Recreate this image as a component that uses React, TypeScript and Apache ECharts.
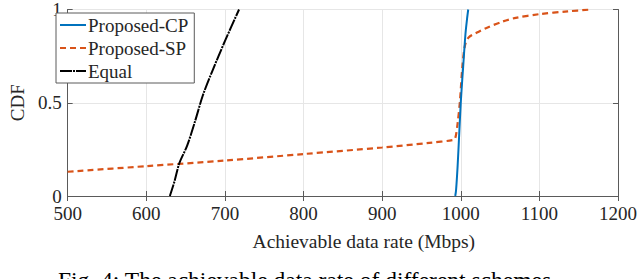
import React, { useEffect, useRef } from "react";
import * as echarts from "echarts";

const xTicks = [500, 600, 700, 800, 900, 1000, 1100, 1200];
const yTicks = [0, 0.5, 1];

const cpRate = [993, 994, 996, 998, 1000, 1002, 1003, 1006, 1008, 1009.5];
const cpCdf = [0, 0.03, 0.16, 0.33, 0.5, 0.63, 0.69, 0.87, 0.95, 1];

const spRate = [500, 600, 700, 800, 900, 960, 990, 993, 996, 999, 1002, 1005.5, 1010, 1020, 1032, 1053, 1070, 1100, 1136, 1165];
const spCdf = [0.13, 0.16, 0.19, 0.225, 0.26, 0.285, 0.3, 0.31, 0.39, 0.51, 0.69, 0.81, 0.85, 0.875, 0.9, 0.935, 0.955, 0.975, 0.99, 1];

const eqRate = [630, 636, 642, 652, 662, 672, 684, 700, 718];
const eqCdf = [0, 0.08, 0.175, 0.27, 0.4, 0.54, 0.67, 0.83, 1];

const seriesNames = ["Proposed-CP", "Proposed-SP", "Equal"];
const xLabel = "Achievable data rate (Mbps)";
const yLabel = "CDF";
const caption = "Fig. 4: The achievable data rate of different schemes.";

const zip = (a: number[], b: number[]) => a.map((v, i) => [v, b[i]]);

const FONT = "Times New Roman";
const TXT = "#262626";
const AX = "#5a5a5a";

export default function App() {
  const ref = useRef<HTMLDivElement>(null);
  useEffect(() => {
    const chart = echarts.init(ref.current!, null, { renderer: "svg" });
    const baseX = {
      type: "value" as const,
      min: xTicks[0],
      max: xTicks[xTicks.length - 1],
      interval: 100,
    };
    const baseY = {
      type: "value" as const,
      min: yTicks[0],
      max: yTicks[yTicks.length - 1],
      interval: 0.5,
    };
    chart.setOption({
      animation: false,
      backgroundColor: "#ffffff",
      textStyle: { fontFamily: FONT },
      grid: { left: 52, right: 21, top: 8, bottom: 83, containLabel: false },
      xAxis: [
        {
          ...baseX,
          position: "bottom",
          name: xLabel,
          nameLocation: "middle",
          nameGap: 35,
          nameTextStyle: { fontFamily: FONT, fontSize: 19.5, color: TXT, padding: [0, 0, 0, 42] },
          axisLine: { lineStyle: { color: AX, width: 1 } },
          axisTick: { inside: true, length: 5, lineStyle: { color: AX } },
          axisLabel: { fontFamily: FONT, fontSize: 19, color: TXT, margin: 8, formatter: (v: number) => String(v) },
          splitLine: { show: true, lineStyle: { color: "#e6e6e6", width: 1 } },
        },
        {
          ...baseX,
          position: "top",
          axisLine: { lineStyle: { color: AX, width: 1 } },
          axisTick: { inside: true, length: 5, lineStyle: { color: AX } },
          axisLabel: { show: false },
          splitLine: { show: false },
        },
      ],
      yAxis: [
        {
          ...baseY,
          position: "left",
          name: yLabel,
          nameLocation: "middle",
          nameGap: 34,
          nameTextStyle: { fontFamily: FONT, fontSize: 19, color: TXT },
          axisLine: { show: true, lineStyle: { color: AX, width: 1 } },
          axisTick: { show: true, inside: true, length: 5, lineStyle: { color: AX } },
          axisLabel: {
            fontFamily: FONT,
            fontSize: 19,
            color: TXT,
            margin: 6,
            formatter: (v: number) => String(v),
          },
          splitLine: { show: true, lineStyle: { color: "#e6e6e6", width: 1 } },
        },
        {
          ...baseY,
          position: "right",
          axisLine: { show: true, lineStyle: { color: AX, width: 1 } },
          axisTick: { show: true, inside: true, length: 5, lineStyle: { color: AX } },
          axisLabel: { show: false },
          splitLine: { show: false },
        },
      ],
      legend: {
        left: 56,
        top: 13,
        orient: "vertical",
        data: seriesNames,
        itemWidth: 26,
        itemHeight: 14,
        itemGap: 3,
        padding: [2, 6, 2, 3],
        borderColor: "#5a5a5a",
        borderWidth: 1,
        backgroundColor: "#ffffff",
        itemStyle: { opacity: 0 },
        textStyle: { fontFamily: FONT, fontSize: 19, color: TXT, lineHeight: 20, padding: [0, 0, 0, -3] },
      },
      series: [
        {
          name: seriesNames[0],
          type: "line",
          data: zip(cpRate, cpCdf),
          smooth: 0.3,
          showSymbol: false,
          symbol: "none",
          lineStyle: { color: "#0072BD", width: 2 },
          itemStyle: { color: "#0072BD" },
          z: 3,
        },
        {
          name: seriesNames[1],
          type: "line",
          data: zip(spRate, spCdf),
          smooth: 0.3,
          showSymbol: false,
          symbol: "none",
          lineStyle: { color: "#D95319", width: 2.2, type: [6, 4] },
          itemStyle: { color: "#D95319" },
          z: 2,
        },
        {
          name: seriesNames[2],
          type: "line",
          data: zip(eqRate, eqCdf),
          smooth: 0.3,
          showSymbol: false,
          symbol: "none",
          lineStyle: { color: "#000000", width: 2, type: [12, 1, 2, 1] },
          itemStyle: { color: "#000000" },
          z: 2,
        },
      ],
      graphic: [
        {
          type: "text",
          left: 58,
          top: 268,
          style: { text: caption, fontFamily: FONT, fontSize: 23.5, fill: "#000000" },
        },
      ],
    });
    return () => chart.dispose();
  }, []);
  return <div ref={ref} style={{ width: 640, height: 279, position: "absolute", left: 0, top: 0 }} />;
}
